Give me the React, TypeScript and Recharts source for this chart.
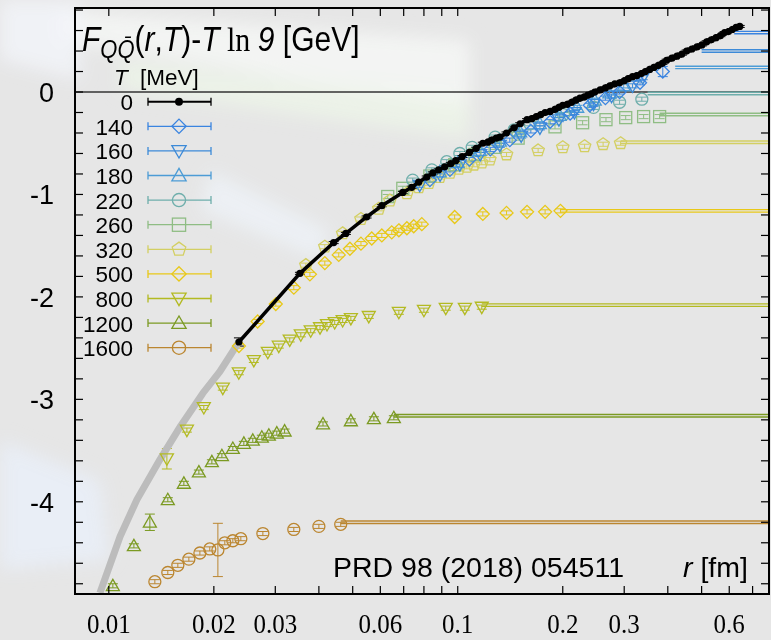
import React from "react";
import { ComposedChart, Scatter, XAxis, YAxis, ReferenceLine, ErrorBar } from "recharts";

// r [fm], F - T ln 9 [GeV], optional error
type Pt = [number, number, number?];

const temps = ["0", "140", "160", "180", "220", "260", "320", "500", "800", "1200", "1600"];

const t0: Pt[] = [
  [0.0236, -2.44, 0.04], [0.0353, -1.77], [0.0441, -1.47], [0.0478, -1.38], [0.0548, -1.22],
  [0.0606, -1.11], [0.0696, -0.98], [0.0738, -0.93], [0.0773, -0.88], [0.0815, -0.83],
  [0.0849, -0.79], [0.0882, -0.76], [0.0918, -0.73], [0.0955, -0.7], [0.0987, -0.67],
  [0.103, -0.63], [0.108, -0.59], [0.113, -0.55], [0.118, -0.5], [0.122, -0.49],
  [0.125, -0.47], [0.129, -0.45], [0.132, -0.44], [0.138, -0.4], [0.145, -0.35],
  [0.151, -0.31], [0.158, -0.27], [0.163, -0.26], [0.168, -0.24], [0.173, -0.22],
  [0.178, -0.2], [0.184, -0.19], [0.19, -0.17], [0.195, -0.15], [0.2, -0.13],
  [0.206, -0.12], [0.212, -0.1], [0.218, -0.08], [0.224, -0.06], [0.23, -0.05],
  [0.236, -0.03], [0.241, -0.02], [0.247, 0.0], [0.256, 0.02], [0.265, 0.04],
  [0.273, 0.06], [0.282, 0.08], [0.291, 0.09], [0.3, 0.11], [0.308, 0.13],
  [0.317, 0.15], [0.326, 0.16], [0.336, 0.18], [0.345, 0.2], [0.355, 0.22],
  [0.365, 0.24], [0.376, 0.26], [0.386, 0.28], [0.397, 0.31], [0.411, 0.33],
  [0.425, 0.35], [0.439, 0.37], [0.453, 0.4], [0.469, 0.42], [0.485, 0.44],
  [0.501, 0.46], [0.517, 0.49], [0.533, 0.51], [0.55, 0.53], [0.566, 0.55],
  [0.582, 0.58], [0.597, 0.59], [0.612, 0.61], [0.628, 0.63], [0.643, 0.64],
];

// perturbative band at short distance
const band: Pt[] = [
  [0.00943, -4.89], [0.01077, -4.34], [0.01203, -3.98], [0.014, -3.59],
  [0.016, -3.27], [0.0186, -2.94], [0.0208, -2.73], [0.0236, -2.44],
];

const t140: Pt[] = [
  [0.0832, -0.86], [0.095, -0.76], [0.108, -0.66], [0.124, -0.56], [0.141, -0.47],
  [0.162, -0.38], [0.184, -0.29], [0.21, -0.21], [0.239, -0.13], [0.265, -0.06],
  [0.291, 0.0], [0.333, 0.09], [0.387, 0.2, 0.05],
];
const t160: Pt[] = [
  [0.0778, -0.91], [0.089, -0.81], [0.1014, -0.71], [0.116, -0.61], [0.132, -0.52],
  [0.152, -0.43], [0.172, -0.35], [0.195, -0.27], [0.216, -0.2], [0.245, -0.12],
  [0.276, -0.04], [0.317, 0.06], [0.339, 0.14],
];
const t180: Pt[] = [
  [0.0888, -0.78], [0.1, -0.69], [0.1156, -0.57], [0.132, -0.48], [0.151, -0.39],
  [0.172, -0.31], [0.196, -0.23], [0.22, -0.15], [0.247, -0.08], [0.272, -0.01], [0.299, 0.06],
];
const t220: Pt[] = [
  [0.0743, -0.86], [0.0843, -0.76], [0.093, -0.68], [0.1014, -0.6], [0.11, -0.54],
  [0.128, -0.44], [0.145, -0.37], [0.161, -0.31], [0.201, -0.22], [0.245, -0.15],
  [0.291, -0.1], [0.337, -0.07],
];
const t260: Pt[] = [
  [0.063, -1.02], [0.0696, -0.94], [0.0832, -0.82], [0.098, -0.71], [0.112, -0.61],
  [0.128, -0.54], [0.149, -0.45], [0.19, -0.34], [0.228, -0.3], [0.266, -0.27],
  [0.303, -0.25], [0.341, -0.24], [0.379, -0.24],
];
const t320: Pt[] = [
  [0.0367, -1.69], [0.0416, -1.51], [0.0468, -1.38], [0.0528, -1.24], [0.0594, -1.14],
  [0.0639, -1.06], [0.0715, -0.99], [0.0773, -0.93], [0.0826, -0.89], [0.0888, -0.83],
  [0.095, -0.79], [0.1007, -0.75], [0.1062, -0.73], [0.1112, -0.71], [0.1172, -0.69],
  [0.1236, -0.66], [0.138, -0.61], [0.17, -0.57], [0.2, -0.54], [0.231, -0.53],
  [0.261, -0.51], [0.293, -0.5],
];
const t500: Pt[] = [
  [0.0236, -2.48], [0.0267, -2.24], [0.0301, -2.07], [0.0339, -1.91], [0.0377, -1.78],
  [0.0416, -1.67], [0.0456, -1.59], [0.0491, -1.53], [0.0528, -1.48], [0.0567, -1.43],
  [0.0606, -1.4], [0.0647, -1.37], [0.0678, -1.35], [0.0715, -1.33], [0.0748, -1.31],
  [0.0789, -1.29], [0.098, -1.22], [0.118, -1.19], [0.138, -1.18], [0.158, -1.17],
  [0.178, -1.17], [0.197, -1.16],
];
const t800: Pt[] = [
  [0.01467, -3.58, 0.1], [0.01674, -3.3], [0.01872, -3.08], [0.02122, -2.89], [0.02358, -2.74],
  [0.02604, -2.62], [0.02856, -2.54], [0.0307, -2.48], [0.033, -2.42], [0.0355, -2.37],
  [0.0379, -2.33], [0.0403, -2.3], [0.0422, -2.27], [0.0444, -2.25], [0.0468, -2.23],
  [0.0494, -2.21], [0.0556, -2.19], [0.0678, -2.15], [0.08, -2.13], [0.0924, -2.11],
  [0.1048, -2.11], [0.1172, -2.1],
];
const t1200: Pt[] = [
  [0.01027, -4.82], [0.0118, -4.43], [0.01311, -4.2, 0.08], [0.01476, -3.98], [0.01641, -3.82],
  [0.01812, -3.71], [0.01974, -3.61], [0.02109, -3.55], [0.02267, -3.48], [0.02438, -3.43],
  [0.02586, -3.4], [0.02745, -3.37], [0.02875, -3.35], [0.0303, -3.33], [0.0319, -3.31],
  [0.0411, -3.24], [0.0494, -3.21], [0.0575, -3.19], [0.0656, -3.18],
];
const t1600: Pt[] = [
  [0.01355, -4.78], [0.01476, -4.69], [0.01577, -4.62], [0.01696, -4.56], [0.01824, -4.5],
  [0.01947, -4.46], [0.02054, -4.47, 0.26], [0.0215, -4.4], [0.02267, -4.38], [0.0239, -4.36],
  [0.02764, -4.31], [0.0339, -4.27], [0.04, -4.24], [0.0462, -4.22],
];

// large-distance plateau F_inf: [start r, value]
const plateaus: [number, number][] = [
  [0, 0], [0.62, 0.58], [0.5, 0.4], [0.42, 0.24], [0.35, -0.015], [0.379, -0.22],
  [0.293, -0.49], [0.197, -1.16], [0.1172, -2.08], [0.0656, -3.16], [0.0462, -4.2],
];

const colors = [
  "#000000", "#3a84e0", "#3c8ad8", "#4c9cd6", "#6eaeab", "#8fbd84",
  "#d3cf62", "#e8c818", "#b3ba22", "#7b9a22", "#bb8630",
];
const markers = ["dot", "diamond", "tdown", "tup", "circle", "square", "pentagon", "diamond", "tdown", "tup", "circle"];
const series = [t0, t140, t160, t180, t220, t260, t320, t500, t800, t1200, t1600];
const smallErr = 0.02;

const xTicks = [0.01, 0.02, 0.03, 0.04, 0.05, 0.06, 0.07, 0.08, 0.09, 0.1, 0.2, 0.3, 0.4, 0.5, 0.6, 0.7];
const xLabels = [0.01, 0.02, 0.03, 0.06, 0.1, 0.2, 0.3, 0.6];
const yTicks = [
  -4.8, -4.6, -4.4, -4.2, -4, -3.8, -3.6, -3.4, -3.2, -3, -2.8, -2.6, -2.4, -2.2, -2,
  -1.8, -1.6, -1.4, -1.2, -1, -0.8, -0.6, -0.4, -0.2, 0, 0.2, 0.4, 0.6, 0.8,
];
const yLabels = [-4, -3, -2, -1, 0];

const W = 780;
const H = 640;
const LEFT = 75;
const RIGHT = 769;
const TOP = 8;
const BOTTOM = 594;
const XMIN = 0.008;
const XMAX = 0.78;
const SANS = "'Liberation Sans', Arial, sans-serif";
const SERIF = "'Liberation Serif', 'Times New Roman', serif";

function marker(kind: string, cx: number, cy: number, color: string, s = 1) {
  const st = { fill: "none", stroke: color, strokeWidth: 1.3 };
  if (kind === "dot") return <circle cx={cx} cy={cy} r={3.6 * s} fill={color} />;
  if (kind === "diamond") {
    const d = 6.5 * s;
    return <polygon points={`${cx},${cy - d} ${cx + d},${cy} ${cx},${cy + d} ${cx - d},${cy}`} {...st} />;
  }
  if (kind === "tdown") {
    const d = 6.5 * s;
    return <polygon points={`${cx - d},${cy - d * 0.75} ${cx + d},${cy - d * 0.75} ${cx},${cy + d}`} {...st} />;
  }
  if (kind === "tup") {
    const d = 6.5 * s;
    return <polygon points={`${cx - d},${cy + d * 0.75} ${cx + d},${cy + d * 0.75} ${cx},${cy - d}`} {...st} />;
  }
  if (kind === "circle") return <circle cx={cx} cy={cy} r={6 * s} {...st} />;
  if (kind === "square") {
    const d = 6 * s;
    return <rect x={cx - d} y={cy - d} width={2 * d} height={2 * d} {...st} />;
  }
  const r = 6.5 * s;
  const pts = [0, 1, 2, 3, 4]
    .map((i) => {
      const a = -Math.PI / 2 + (i * 2 * Math.PI) / 5;
      return `${cx + r * Math.cos(a)},${cy + r * Math.sin(a)}`;
    })
    .join(" ");
  return <polygon points={pts} {...st} />;
}

const XTick = (props: any) => {
  const { x, payload } = props;
  const v = payload.value;
  const show = xLabels.includes(v);
  return (
    <g>
      <line x1={x} x2={x} y1={BOTTOM} y2={BOTTOM - 8} stroke="#000" strokeWidth={1.2} />
      <line x1={x} x2={x} y1={TOP} y2={TOP + 8} stroke="#000" strokeWidth={1.2} />
      {show && (
        <text
          x={x}
          y={0}
          transform={`translate(0 ${633}) scale(1 1.12)`}
          textAnchor="middle"
          fontFamily={SERIF}
          fontSize={25}
          fill="#000"
        >
          {v}
        </text>
      )}
    </g>
  );
};

const YTick = (props: any) => {
  const { y, payload } = props;
  const v = payload.value;
  const show = yLabels.includes(v);
  return (
    <g>
      <line x1={LEFT} x2={LEFT + 8} y1={y} y2={y} stroke="#000" strokeWidth={1.2} />
      <line x1={RIGHT} x2={RIGHT - 8} y1={y} y2={y} stroke="#000" strokeWidth={1.2} />
      {show && (
        <text x={54} y={y + 10} textAnchor="end" fontFamily={SANS} fontSize={27} fill="#000">
          {v}
        </text>
      )}
    </g>
  );
};

const toData = (pts: Pt[], i: number) =>
  pts.map(([r, v, e]) => ({ r, v, e: e ?? (i === 0 ? 0.01 : smallErr) }));

// soft streaks of the slide background
const Backdrop = () => (
  <svg width={771} height={640} style={{ position: "absolute", left: 0, top: 0 }}>
    <defs>
      <filter id="soft" x="-30%" y="-30%" width="160%" height="160%">
        <feGaussianBlur stdDeviation="9" />
      </filter>
    </defs>
    <g filter="url(#soft)">
      <polygon points="60,10 470,40 470,110 60,40" fill="#f6f8f6" opacity={0.8} />
      <polygon points="120,60 470,100 470,140 120,90" fill="#eef6e8" opacity={0.7} />
      <polygon points="0,0 80,0 80,80 0,60" fill="#f2f5fa" opacity={0.8} />
      <polygon points="210,170 330,230 320,260 200,210" fill="#eef2f8" opacity={0.8} />
      <polygon points="0,440 100,480 110,560 0,570" fill="#e9eef7" opacity={0.9} />
    </g>
  </svg>
);

const Overlay = () => {
  const rowY = (i: number) => 101.7 + i * 24.6;
  return (
    <svg width={W} height={H} style={{ position: "absolute", left: 0, top: 0, pointerEvents: "none" }}>
      <rect x={LEFT} y={TOP} width={RIGHT - LEFT} height={BOTTOM - TOP} fill="none" stroke="#000" strokeWidth={2} />
      <text transform="translate(82 51) scale(1 1.15)" fontFamily={SANS} fontSize={30} fill="#000">
        <tspan fontStyle="italic">F</tspan>
        <tspan fontStyle="italic" fontSize={22} dy={6}>{"QQ\u0304"}</tspan>
        <tspan dy={-6}>(</tspan>
        <tspan fontStyle="italic">r</tspan>
        <tspan>,</tspan>
        <tspan fontStyle="italic">T</tspan>
        <tspan>)-</tspan>
        <tspan fontStyle="italic">T</tspan>
        <tspan fontFamily={SERIF}> ln </tspan>
        <tspan fontStyle="italic">9</tspan>
        <tspan> [GeV]</tspan>
      </text>
      <text x={114} y={85} fontFamily={SANS} fontSize={22.5} fill="#000">
        <tspan fontStyle="italic">T</tspan>
        <tspan x={140}>[MeV]</tspan>
      </text>
      {temps.map((t, i) => {
        const y = rowY(i);
        const c = colors[i];
        return (
          <g key={t}>
            <text x={133} y={y + 8.5} textAnchor="end" fontFamily={SANS} fontSize={22.5} fill="#000">
              {t}
            </text>
            <line x1={148} x2={211} y1={y} y2={y} stroke={c} strokeWidth={i === 0 ? 2 : 1.3} />
            <line x1={148} x2={148} y1={y - 4} y2={y + 4} stroke={c} strokeWidth={1.3} />
            <line x1={211} x2={211} y1={y - 4} y2={y + 4} stroke={c} strokeWidth={1.3} />
            {marker(markers[i], 179, y, c, 1.1)}
          </g>
        );
      })}
      <text x={333} y={577} fontFamily={SANS} fontSize={28.5} fill="#000">
        PRD 98 (2018) 054511
      </text>
      <text x={683} y={577} fontFamily={SANS} fontSize={28.5} fill="#000">
        <tspan fontStyle="italic">r</tspan>
        <tspan> [fm]</tspan>
      </text>
    </svg>
  );
};

export default function App() {
  return (
    <div
      style={{
        position: "absolute",
        left: 0,
        top: 0,
        width: 771,
        height: 640,
        overflow: "hidden",
        background: "#e6e6e6",
      }}
    >
      <Backdrop />
      <div style={{ position: "absolute", left: 0, top: 0 }}>
        <ComposedChart width={W} height={H} margin={{ top: TOP, right: W - RIGHT, bottom: 0, left: 0 }}>
          <XAxis
            dataKey="r"
            type="number"
            scale="log"
            domain={[XMIN, XMAX]}
            allowDataOverflow
            ticks={xTicks}
            interval={0}
            height={H - BOTTOM}
            axisLine={false}
            tickLine={false}
            tick={<XTick />}
          />
          <YAxis
            dataKey="v"
            type="number"
            domain={[-4.9, 0.82]}
            allowDataOverflow
            ticks={yTicks}
            interval={0}
            width={LEFT}
            axisLine={false}
            tickLine={false}
            tick={<YTick />}
          />
          <ReferenceLine y={0} stroke="#333" strokeWidth={1.5} />
          {plateaus.map(([r0, v], i) =>
            i === 0 ? null : (
              <React.Fragment key={"p" + i}>
                <ReferenceLine
                  segment={[{ x: r0, y: v + 0.012 }, { x: XMAX, y: v + 0.012 }]}
                  stroke={colors[i]}
                  strokeWidth={1.4}
                  ifOverflow="hidden"
                />
                <ReferenceLine
                  segment={[{ x: r0, y: v - 0.012 }, { x: XMAX, y: v - 0.012 }]}
                  stroke={colors[i]}
                  strokeWidth={1.4}
                  ifOverflow="hidden"
                />
              </React.Fragment>
            )
          )}
          <Scatter
            data={toData(band, -1)}
            line={{ stroke: "#bcbcbc", strokeWidth: 7 }}
            lineType="joint"
            shape={() => <g />}
            isAnimationActive={false}
          />
          {series
            .map((pts, i) => (
              <Scatter
                key={temps[i]}
                data={toData(pts, i)}
                isAnimationActive={false}
                line={i === 0 ? { stroke: "#000", strokeWidth: 3.5 } : false}
                lineType="joint"
                shape={(p: any) => marker(markers[i], p.cx, p.cy, colors[i])}
              >
                <ErrorBar dataKey="e" direction="y" width={5} stroke={colors[i]} strokeWidth={1} />
              </Scatter>
            ))
            .reverse()}
        </ComposedChart>
      </div>
      <Overlay />
    </div>
  );
}
